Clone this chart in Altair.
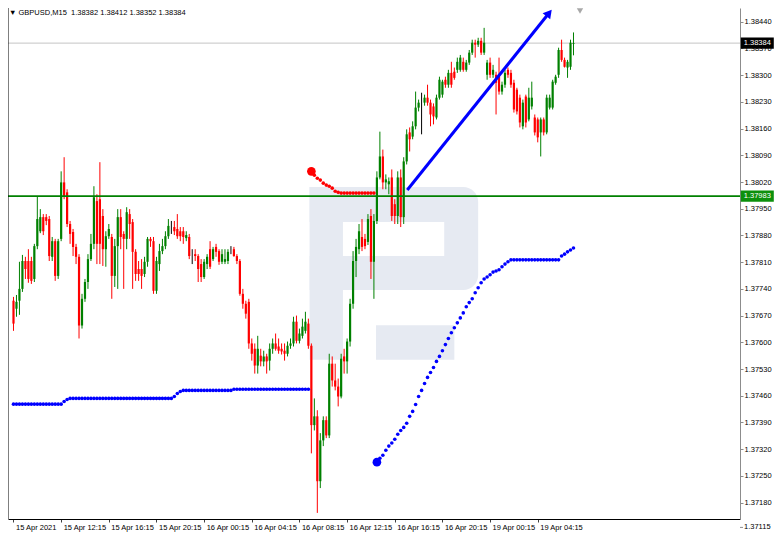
import json
import altair as alt
import pandas as pd

FONT = "Liberation Sans"
SYMBOL = "GBPUSD,M15"

time_labels = ["15 Apr 2021", "15 Apr 12:15", "15 Apr 16:15", "15 Apr 20:15",
               "16 Apr 00:15", "16 Apr 04:15", "16 Apr 08:15", "16 Apr 12:15",
               "16 Apr 16:15", "16 Apr 20:15", "19 Apr 00:15", "19 Apr 04:15"]
time_label_bars = [0, 16, 32, 48, 64, 80, 96, 112, 128, 144, 160, 176]

price_ticks = [1.38440, 1.38370, 1.38300, 1.38230, 1.38160, 1.38090, 1.38020,
               1.37950, 1.37880, 1.37810, 1.37740, 1.37670, 1.37600, 1.37530,
               1.37460, 1.37390, 1.37320, 1.37250, 1.37180, 1.37115]

opens = [
    1.37709, 1.37688, 1.37709, 1.37740, 1.37813, 1.37813, 1.37813, 1.37766, 1.37852, 1.37891,
    1.37928, 1.37928, 1.37923, 1.37824, 1.37865, 1.37774, 1.37871, 1.38019, 1.37993, 1.37910,
    1.37889, 1.37850, 1.37824, 1.37644, 1.37714, 1.37758, 1.37818, 1.37858, 1.37970, 1.37975,
    1.37931, 1.37844, 1.37878, 1.37876, 1.37774, 1.37852, 1.37928, 1.37884, 1.37871, 1.37936,
    1.37915, 1.37837, 1.37792, 1.37792, 1.37779, 1.37811, 1.37871, 1.37865, 1.37735, 1.37805,
    1.37839, 1.37852, 1.37878, 1.37902, 1.37902, 1.37897, 1.37891, 1.37891, 1.37873, 1.37876,
    1.37831, 1.37831, 1.37826, 1.37805, 1.37771, 1.37805, 1.37844, 1.37818, 1.37850, 1.37839,
    1.37811, 1.37811, 1.37813, 1.37844, 1.37844, 1.37826, 1.37813, 1.37727, 1.37701, 1.37706,
    1.37597, 1.37583, 1.37539, 1.37565, 1.37550, 1.37563, 1.37552, 1.37583, 1.37597, 1.37589,
    1.37583, 1.37578, 1.37570, 1.37591, 1.37597, 1.37654, 1.37604, 1.37617, 1.37630, 1.37649,
    1.37591, 1.37383, 1.37406, 1.37236, 1.37343, 1.37396, 1.37356, 1.37544, 1.37500, 1.37484,
    1.37458, 1.37563, 1.37550, 1.37602, 1.37701, 1.37813, 1.37844, 1.37876, 1.37871, 1.37863,
    1.37931, 1.37811, 1.37918, 1.38032, 1.38087, 1.38019, 1.38014, 1.38032, 1.37962, 1.37931,
    1.38032, 1.37928, 1.38074, 1.38150, 1.38139, 1.38166, 1.38215, 1.38228, 1.38228, 1.38241,
    1.38228, 1.38218, 1.38189, 1.38241, 1.38249, 1.38288, 1.38275, 1.38306, 1.38309, 1.38314,
    1.38314, 1.38335, 1.38314, 1.38333, 1.38359, 1.38385, 1.38380, 1.38390, 1.38359, 1.38301,
    1.38333, 1.38301, 1.38301, 1.38296, 1.38257, 1.38275, 1.38314, 1.38306, 1.38280, 1.38262,
    1.38241, 1.38166, 1.38244, 1.38184, 1.38218, 1.38189, 1.38184, 1.38150, 1.38184, 1.38150,
    1.38215, 1.38215, 1.38280, 1.38301, 1.38366, 1.38340, 1.38320, 1.38322, 1.38382,
]
highs = [
    1.37719, 1.37724, 1.37811, 1.37829, 1.37824, 1.37844, 1.37824, 1.37858, 1.37983, 1.37949,
    1.37936, 1.37936, 1.37931, 1.37876, 1.37871, 1.37871, 1.38048, 1.38085, 1.38001, 1.37918,
    1.37897, 1.37858, 1.37831, 1.37727, 1.37766, 1.37831, 1.37884, 1.38009, 1.37988, 1.38072,
    1.37949, 1.37891, 1.37910, 1.37884, 1.37871, 1.37949, 1.37949, 1.37891, 1.37954, 1.37949,
    1.37923, 1.37844, 1.37813, 1.37818, 1.37824, 1.37876, 1.37876, 1.37876, 1.37824, 1.37858,
    1.37871, 1.37891, 1.37923, 1.37918, 1.37918, 1.37936, 1.37902, 1.37902, 1.37891, 1.37884,
    1.37844, 1.37844, 1.37831, 1.37818, 1.37818, 1.37831, 1.37865, 1.37850, 1.37858, 1.37844,
    1.37844, 1.37844, 1.37844, 1.37852, 1.37850, 1.37831, 1.37818, 1.37740, 1.37709, 1.37714,
    1.37610, 1.37597, 1.37617, 1.37583, 1.37578, 1.37570, 1.37597, 1.37610, 1.37623, 1.37610,
    1.37597, 1.37597, 1.37602, 1.37610, 1.37667, 1.37670, 1.37636, 1.37662, 1.37680, 1.37662,
    1.37597, 1.37453, 1.37422, 1.37362, 1.37406, 1.37406, 1.37570, 1.37563, 1.37544, 1.37505,
    1.37570, 1.37583, 1.37610, 1.37714, 1.37839, 1.37871, 1.37910, 1.37923, 1.37884, 1.37936,
    1.37949, 1.37936, 1.38048, 1.38152, 1.38105, 1.38040, 1.38032, 1.38053, 1.37975, 1.38048,
    1.38053, 1.38085, 1.38158, 1.38163, 1.38179, 1.38257, 1.38236, 1.38254, 1.38249, 1.38275,
    1.38236, 1.38226, 1.38249, 1.38296, 1.38288, 1.38296, 1.38314, 1.38335, 1.38320, 1.38346,
    1.38353, 1.38346, 1.38340, 1.38366, 1.38393, 1.38393, 1.38398, 1.38398, 1.38424, 1.38340,
    1.38346, 1.38327, 1.38309, 1.38346, 1.38283, 1.38314, 1.38320, 1.38314, 1.38288, 1.38267,
    1.38249, 1.38236, 1.38249, 1.38267, 1.38283, 1.38197, 1.38189, 1.38189, 1.38189, 1.38249,
    1.38249, 1.38288, 1.38301, 1.38372, 1.38393, 1.38346, 1.38340, 1.38393, 1.38412,
]
lows = [
    1.37630, 1.37667, 1.37672, 1.37732, 1.37766, 1.37756, 1.37753, 1.37758, 1.37844, 1.37886,
    1.37881, 1.37907, 1.37813, 1.37813, 1.37761, 1.37766, 1.37865, 1.37975, 1.37902, 1.37858,
    1.37826, 1.37805, 1.37610, 1.37636, 1.37706, 1.37740, 1.37813, 1.37844, 1.37805, 1.37805,
    1.37800, 1.37798, 1.37871, 1.37714, 1.37745, 1.37740, 1.37844, 1.37740, 1.37844, 1.37871,
    1.37740, 1.37761, 1.37761, 1.37740, 1.37771, 1.37798, 1.37850, 1.37727, 1.37727, 1.37787,
    1.37831, 1.37844, 1.37871, 1.37884, 1.37881, 1.37871, 1.37865, 1.37858, 1.37865, 1.37818,
    1.37805, 1.37813, 1.37758, 1.37758, 1.37766, 1.37792, 1.37792, 1.37813, 1.37824, 1.37803,
    1.37805, 1.37805, 1.37805, 1.37831, 1.37824, 1.37805, 1.37722, 1.37688, 1.37662, 1.37583,
    1.37552, 1.37518, 1.37518, 1.37537, 1.37537, 1.37518, 1.37526, 1.37570, 1.37578, 1.37570,
    1.37568, 1.37552, 1.37563, 1.37583, 1.37589, 1.37597, 1.37597, 1.37610, 1.37623, 1.37583,
    1.37309, 1.37369, 1.37153, 1.37218, 1.37328, 1.37349, 1.37349, 1.37484, 1.37474, 1.37432,
    1.37453, 1.37518, 1.37518, 1.37589, 1.37688, 1.37771, 1.37831, 1.37839, 1.37844, 1.37855,
    1.37766, 1.37714, 1.37910, 1.38027, 1.38001, 1.38001, 1.37988, 1.37918, 1.37910, 1.37910,
    1.37902, 1.37910, 1.38066, 1.38100, 1.38132, 1.38158, 1.38205, 1.38145, 1.38220, 1.38220,
    1.38166, 1.38171, 1.38184, 1.38236, 1.38241, 1.38267, 1.38267, 1.38267, 1.38288, 1.38306,
    1.38309, 1.38309, 1.38309, 1.38327, 1.38353, 1.38346, 1.38374, 1.38353, 1.38353, 1.38288,
    1.38293, 1.38293, 1.38197, 1.38249, 1.38249, 1.38267, 1.38293, 1.38267, 1.38202, 1.38197,
    1.38163, 1.38158, 1.38163, 1.38179, 1.38210, 1.38142, 1.38124, 1.38087, 1.38142, 1.38145,
    1.38210, 1.38210, 1.38275, 1.38293, 1.38335, 1.38320, 1.38293, 1.38314, 1.38352,
]
closes = [
    1.37649, 1.37706, 1.37740, 1.37813, 1.37792, 1.37766, 1.37761, 1.37852, 1.37923, 1.37928,
    1.37891, 1.37918, 1.37826, 1.37865, 1.37774, 1.37865, 1.38019, 1.37983, 1.37910, 1.37884,
    1.37850, 1.37824, 1.37644, 1.37714, 1.37758, 1.37818, 1.37858, 1.37980, 1.37858, 1.37858,
    1.37844, 1.37878, 1.37897, 1.37774, 1.37852, 1.37928, 1.37876, 1.37871, 1.37941, 1.37910,
    1.37837, 1.37779, 1.37779, 1.37774, 1.37811, 1.37871, 1.37865, 1.37735, 1.37813, 1.37839,
    1.37852, 1.37878, 1.37905, 1.37902, 1.37891, 1.37878, 1.37878, 1.37876, 1.37881, 1.37826,
    1.37831, 1.37826, 1.37792, 1.37771, 1.37811, 1.37824, 1.37798, 1.37844, 1.37837, 1.37811,
    1.37831, 1.37818, 1.37837, 1.37844, 1.37826, 1.37813, 1.37727, 1.37701, 1.37675, 1.37597,
    1.37570, 1.37539, 1.37583, 1.37550, 1.37563, 1.37550, 1.37583, 1.37597, 1.37583, 1.37578,
    1.37576, 1.37570, 1.37591, 1.37597, 1.37654, 1.37604, 1.37623, 1.37641, 1.37654, 1.37591,
    1.37383, 1.37406, 1.37236, 1.37343, 1.37396, 1.37356, 1.37544, 1.37500, 1.37484, 1.37458,
    1.37557, 1.37550, 1.37602, 1.37701, 1.37813, 1.37850, 1.37891, 1.37850, 1.37852, 1.37923,
    1.37811, 1.37918, 1.38032, 1.38087, 1.38019, 1.38027, 1.38022, 1.37931, 1.37931, 1.38032,
    1.37928, 1.38074, 1.38145, 1.38132, 1.38166, 1.38215, 1.38228, 1.38228, 1.38241, 1.38228,
    1.38197, 1.38192, 1.38241, 1.38288, 1.38283, 1.38275, 1.38306, 1.38275, 1.38293, 1.38335,
    1.38346, 1.38314, 1.38333, 1.38359, 1.38385, 1.38380, 1.38390, 1.38359, 1.38385, 1.38333,
    1.38301, 1.38314, 1.38280, 1.38257, 1.38275, 1.38306, 1.38301, 1.38275, 1.38210, 1.38205,
    1.38176, 1.38228, 1.38176, 1.38241, 1.38241, 1.38150, 1.38137, 1.38184, 1.38150, 1.38241,
    1.38241, 1.38283, 1.38296, 1.38366, 1.38340, 1.38322, 1.38335, 1.38385, 1.38384,
]

level_price = 1.37983

# trailing-stop indicator (blue below price, red above price)
blue_left_start = 0
blue_left = [
    1.37438, 1.37438, 1.37438, 1.37438, 1.37438, 1.37438, 1.37438, 1.37438, 1.37438, 1.37438,
    1.37438, 1.37438, 1.37438, 1.37438, 1.37438, 1.37438, 1.37438, 1.37445, 1.37450, 1.37453,
    1.37453, 1.37453, 1.37453, 1.37453, 1.37453, 1.37453, 1.37453, 1.37453, 1.37453, 1.37453,
    1.37453, 1.37453, 1.37453, 1.37453, 1.37453, 1.37453, 1.37453, 1.37453, 1.37453, 1.37453,
    1.37453, 1.37453, 1.37453, 1.37453, 1.37453, 1.37453, 1.37453, 1.37453, 1.37453, 1.37453,
    1.37453, 1.37453, 1.37453, 1.37453, 1.37458, 1.37466, 1.37471, 1.37474, 1.37474, 1.37474,
    1.37474, 1.37474, 1.37474, 1.37474, 1.37474, 1.37474, 1.37474, 1.37474, 1.37474, 1.37474,
    1.37474, 1.37474, 1.37474, 1.37474, 1.37477, 1.37477, 1.37477, 1.37477, 1.37477, 1.37477,
    1.37477, 1.37477, 1.37477, 1.37477, 1.37477, 1.37477, 1.37477, 1.37477, 1.37477, 1.37477,
    1.37477, 1.37477, 1.37477, 1.37477, 1.37477, 1.37477, 1.37477, 1.37477, 1.37477, 1.37477,
]
red_start = 100
red_stop = [
    1.38048, 1.38038, 1.38030, 1.38025, 1.38017, 1.38012, 1.38009, 1.38004, 1.37996, 1.37993,
    1.37991, 1.37991, 1.37991, 1.37991, 1.37991, 1.37991, 1.37991, 1.37991, 1.37991, 1.37991,
    1.37991, 1.37991,
]
blue_right_start = 122
blue_right = [
    1.37286, 1.37296, 1.37304, 1.37317, 1.37328, 1.37336, 1.37346, 1.37359, 1.37369, 1.37377,
    1.37388, 1.37406, 1.37419, 1.37437, 1.37458, 1.37474, 1.37492, 1.37508, 1.37521, 1.37534,
    1.37550, 1.37563, 1.37578, 1.37594, 1.37610, 1.37625, 1.37638, 1.37651, 1.37664, 1.37677,
    1.37693, 1.37704, 1.37714, 1.37730, 1.37743, 1.37756, 1.37766, 1.37771, 1.37777, 1.37784,
    1.37787, 1.37790, 1.37798, 1.37805, 1.37811, 1.37816, 1.37816, 1.37816, 1.37816, 1.37816,
    1.37816, 1.37816, 1.37816, 1.37816, 1.37816, 1.37816, 1.37816, 1.37816, 1.37816, 1.37816,
    1.37816, 1.37816, 1.37826, 1.37831, 1.37837, 1.37842, 1.37847,
]

# hand-drawn trend arrow (bar units, price)
arrow_bars = [132.2, 179.8]
arrow_prices = [1.37999, 1.38463]

# watermark logo blocks (bar units, price): stem, top bar, bowl bottom, leg
logo_b1 = [99.4, 99.4, 99.4, 121.7]
logo_b2 = [110.6, 151.0, 151.0, 148.0]
logo_p1 = [1.37554, 1.37915, 1.37737, 1.37554]
logo_p2 = [1.38007, 1.38007, 1.37826, 1.37645]
# rounded right side of the bowl
logo_r_b1 = [144.6]
logo_r_b2 = [156.0]
logo_r_p1 = [1.37737]
logo_r_p2 = [1.38007]

# ---------------------------------------------------------------- tables
n = len(closes)
candles = pd.DataFrame({"i": list(range(n)), "open": opens, "high": highs,
                        "low": lows, "close": closes})
candles["dir"] = ["up" if c > o else ("down" if c < o else "flat")
                  for o, c in zip(opens, closes)]

blue_df = pd.DataFrame({
    "i": [blue_left_start + k for k in range(len(blue_left))]
         + [blue_right_start + k for k in range(len(blue_right))],
    "p": blue_left + blue_right})
red_df = pd.DataFrame({"i": [red_start + k for k in range(len(red_stop))], "p": red_stop})
red_big = red_df.head(1)
blue_big = pd.DataFrame({"i": [blue_right_start], "p": [blue_right[0]]})
arrow_df = pd.DataFrame({"i": arrow_bars, "p": arrow_prices})
head_df = arrow_df.tail(1)
logo_df = pd.DataFrame({"i": logo_b1, "i2": logo_b2, "p": logo_p1, "p2": logo_p2})
logo_r_df = pd.DataFrame({"i": logo_r_b1, "i2": logo_r_b2, "p": logo_r_p1, "p2": logo_r_p2})
level_df = pd.DataFrame({"p": [level_price]})
bid_df = pd.DataFrame({"p": [closes[-1]]})
bottom_tick_df = pd.DataFrame({"p": price_ticks[-1:]})
one = pd.DataFrame({"k": [0]})
title_text = (f"\u25bc {SYMBOL}\u00a0 {opens[-1]:.5f} {highs[-1]:.5f} "
              f"{lows[-1]:.5f} {closes[-1]:.5f}")

# ---------------------------------------------------------------- layout
PW, PH = 732, 511
xs = alt.Scale(domain=[-0.166, 242.22], nice=False, zero=False)
ys = alt.Scale(domain=[1.37137, 1.38476], nice=False, zero=False)

label_expr = f"{json.dumps(time_labels)}[round(datum.value / 16)]"
xax = alt.Axis(values=time_label_bars, labelExpr=label_expr, title=None, grid=False,
               domainColor="#000000", domainWidth=1, tickColor="#404040", tickSize=3,
               labelAlign="left", labelBaseline="top", labelPadding=1, labelOffset=2,
               labelFont=FONT, labelFontSize=7.5, labelColor="#000000",
               labelFlush=False, labelOverlap=False)
yax = alt.Axis(orient="right", values=price_ticks[:-1], format=".5f", title=None,
               grid=False, domainColor="#8c8c8c", tickColor="#8c8c8c", tickSize=3,
               labelPadding=1, labelFont=FONT, labelFontSize=7.5, labelColor="#000000",
               labelOverlap=False, labelFlush=False, labelBaseline="middle")


def X(field="i"):
    return alt.X(f"{field}:Q", scale=xs, axis=xax)


def Y(field="p"):
    return alt.Y(f"{field}:Q", scale=ys, axis=yax)


dir_color = alt.Color("dir:N", legend=None,
                      scale=alt.Scale(domain=["up", "down", "flat"],
                                      range=["#008000", "#ff0000", "#000000"]))

WM = "#e6eaf2"
logo = alt.Chart(logo_df).mark_rect(color=WM).encode(
    x=X(), x2="i2:Q", y=Y(), y2="p2:Q")
logo_r = alt.Chart(logo_r_df).mark_rect(color=WM, cornerRadius=15).encode(
    x=X(), x2="i2:Q", y=Y(), y2="p2:Q")

bid_line = alt.Chart(bid_df).mark_rule(color="#c4c4c4", strokeWidth=1).encode(y=Y())

wicks = alt.Chart(candles).mark_rule(strokeWidth=1).encode(
    x=X(), y=Y("low"), y2="high:Q", color=dir_color)
bodies = alt.Chart(candles).mark_bar(size=2.2).encode(
    x=X(), y=Y("open"), y2="close:Q", color=dir_color)

level = alt.Chart(level_df).mark_rule(color="#008000", strokeWidth=1.6).encode(y=Y())

blue_dots = alt.Chart(blue_df).mark_circle(size=13, opacity=1, color="#0000ff").encode(
    x=X(), y=Y())
red_dots = alt.Chart(red_df).mark_circle(size=13, opacity=1, color="#ff0000").encode(
    x=X(), y=Y())
red_big_dot = alt.Chart(red_big).mark_circle(size=75, opacity=1, color="#ff0000").encode(
    x=X(), y=Y())
blue_big_dot = alt.Chart(blue_big).mark_circle(size=75, opacity=1, color="#0000ff").encode(
    x=X(), y=Y())

arrow = alt.Chart(arrow_df).mark_line(color="#0000ff", strokeWidth=3).encode(x=X(), y=Y())
arrow_head = alt.Chart(head_df).mark_point(shape="triangle-up", filled=True, size=95,
                                           angle=39, opacity=1, color="#0000ff").encode(
    x=X(), y=Y())

title = alt.Chart(one).mark_text(align="left", baseline="middle", font=FONT,
                                 fontSize=7.5, color="#000000").encode(
    x=alt.value(1), y=alt.value(5), text=alt.value(title_text))

shift_mark = alt.Chart(one).mark_point(shape="triangle-down", filled=True, size=40,
                                       opacity=1, color="#a8a8a8").encode(
    x=alt.value(572), y=alt.value(3))

left_border = alt.Chart(one).mark_rule(color="#000000", strokeWidth=1).encode(
    x=alt.value(0), y=alt.value(0), y2=alt.value(PH))

# lowest price label of the scale (sits at the bottom edge, below the x-axis line)
bottom_tick = alt.Chart(bottom_tick_df).mark_rule(color="#8c8c8c", strokeWidth=1).encode(
    x=alt.value(PW), x2=alt.value(PW + 3), y=Y())
bottom_label = alt.Chart(bottom_tick_df).mark_text(
    font=FONT, fontSize=7.5, color="#000000", align="left", baseline="middle").encode(
    x=alt.value(PW + 4), y=Y(), text=alt.Text("p:Q", format=".5f"))

BOX_X = PW + 17.3
box_shape = "M-1,-0.34L1,-0.34L1,0.34L-1,0.34Z"
bid_box = alt.Chart(bid_df).mark_point(shape=box_shape, filled=True, size=1089,
                                       opacity=1, color="#000000").encode(
    x=alt.value(BOX_X), y=Y())
bid_txt = alt.Chart(bid_df).mark_text(font=FONT, fontSize=7.5, color="#ffffff",
                                      align="center", baseline="middle").encode(
    x=alt.value(BOX_X), y=Y(), text=alt.Text("p:Q", format=".5f"))
lvl_box = alt.Chart(level_df).mark_point(shape=box_shape, filled=True, size=1089,
                                         opacity=1, color="#0c900c").encode(
    x=alt.value(BOX_X), y=Y())
lvl_txt = alt.Chart(level_df).mark_text(font=FONT, fontSize=7.5, color="#ffffff",
                                        align="center", baseline="middle").encode(
    x=alt.value(BOX_X), y=Y(), text=alt.Text("p:Q", format=".5f"))

chart = alt.layer(
    logo_r, logo, bid_line, wicks, bodies, level, blue_dots, red_dots,
    red_big_dot, blue_big_dot, arrow, arrow_head, title, shift_mark, left_border,
    bottom_tick, bottom_label, bid_box, bid_txt, lvl_box, lvl_txt,
).properties(
    width=PW, height=PH,
    padding={"left": 0, "top": 0, "right": 34, "bottom": 14},
    autosize=alt.AutoSizeParams(type="none"),
).configure_view(strokeWidth=0)

chart.save("out.html", embed_options={"renderer": "svg", "actions": False})
